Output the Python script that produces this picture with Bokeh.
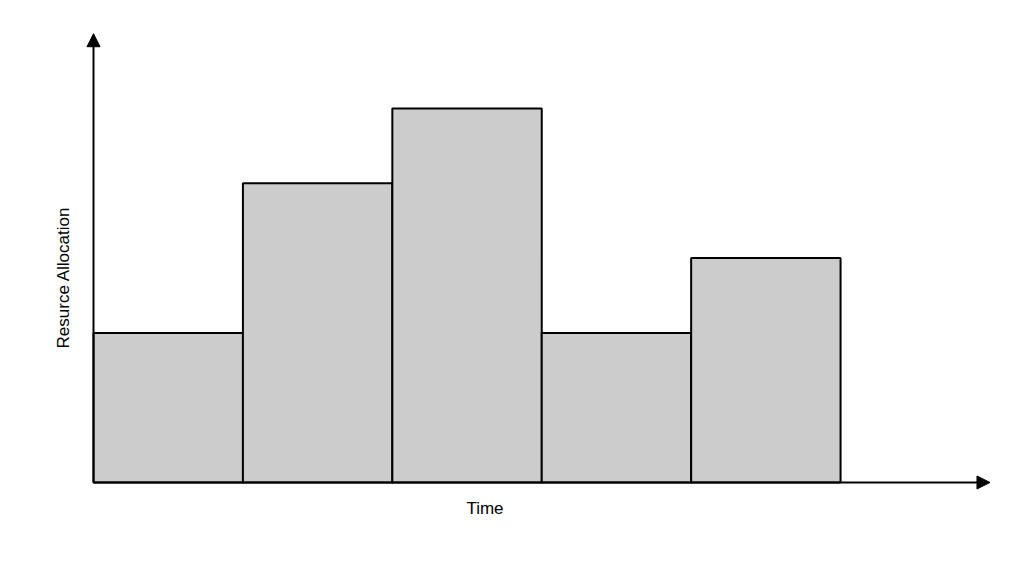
from bokeh.plotting import figure
from bokeh.models import Range1d, Arrow, NormalHead, ColumnDataSource
from bokeh.core.properties import value
from bokeh.embed import file_html
from bokeh.resources import INLINE

# Data
periods = [1, 2, 3, 4, 5]
allocation = [2, 4, 5, 2, 3]
x_label = "Time"
y_label = "Resurce Allocation"
x_axis_end = 6
y_axis_end = 6

p = figure(width=1008, height=560, output_backend="svg", toolbar_location=None,
           x_range=Range1d(-0.6225, 6.124), y_range=Range1d(-1.043, 6.444),
           min_border=0, outline_line_color=None)
p.axis.visible = False
p.grid.visible = False

src = ColumnDataSource(dict(x=[i - 0.5 for i in periods], top=allocation))
p.vbar(x="x", top="top", bottom=0, width=1, source=src,
       fill_color="#cccccc", line_color="black", line_width=2)

p.add_layout(Arrow(end=NormalHead(size=13, fill_color="black", line_color="black"),
                   x_start=0, y_start=0, x_end=x_axis_end, y_end=0,
                   line_color="black", line_width=2))
p.add_layout(Arrow(end=NormalHead(size=13, fill_color="black", line_color="black"),
                   x_start=0, y_start=0, x_end=0, y_end=y_axis_end,
                   line_color="black", line_width=2))

p.text(x=[2.62], y=[-0.35], text=[x_label], text_align="center", text_baseline="middle",
       text_font=value("Liberation Sans"), text_font_size="17px", text_color="black")
p.text(x=[-0.2], y=[2.74], text=[y_label], angle=1.5708, text_align="center",
       text_baseline="middle", text_font=value("Liberation Sans"), text_font_size="17px",
       text_color="black")

open("out.html", "w").write(file_html(p, INLINE))
